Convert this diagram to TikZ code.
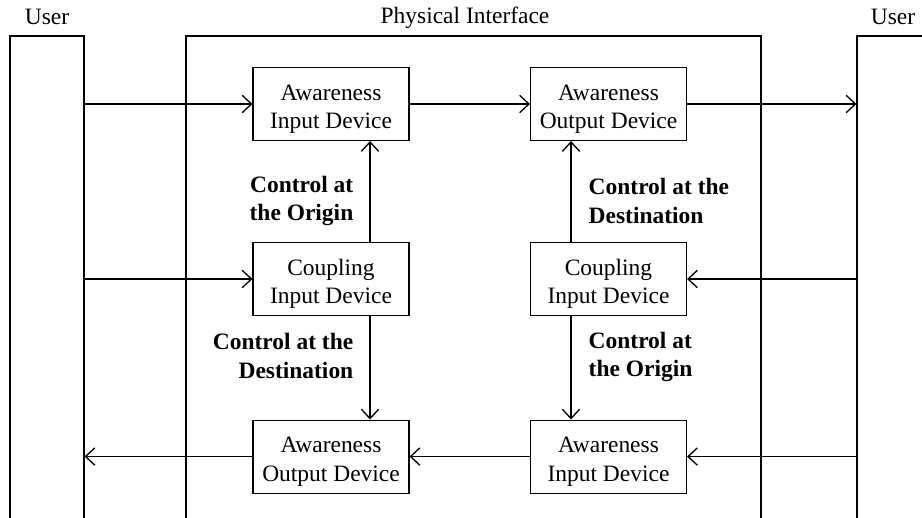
\documentclass[tikz,border=0pt]{standalone}
\usepackage{fontspec}
\setmainfont{Liberation Serif}
\usetikzlibrary{arrows.meta,positioning}

\begin{document}
\begin{tikzpicture}[
    x=0.75pt, y=-0.75pt,
    node distance=131.25pt,
    >={Straight Barb[length=7pt,width=13pt,line width=1pt]},
    font=\fontsize{17.6}{21.3}\selectfont,
    device/.style={
		rectangle,
		draw=black,
		line width=0.8pt,
		align=center,
		inner sep=0pt,
		text height=40.5pt,
		minimum width=117pt,
		minimum height=54.75pt
	},
	frame/.style={
		rectangle,
		draw=black,
		line width=0.8pt,
		inner sep=0pt,
		minimum height=370.5pt
	},
	ctrl/.style={
		font=\fontsize{17.6}{21.3}\selectfont\bfseries
	},
	flow/.style={
		->,
		line width=1pt
	}
  ]
  \useasboundingbox (0,0) rectangle (922,518);

  % We start by placing the frames
  \node [frame, minimum width=55.5pt] (userl) at (47,283) {};
  \node [frame, minimum width=431.25pt] (phys) at (473.5,283) {};
  \node [frame, minimum width=97.5pt] (userr) at (922,283) {};

  \node (userlt) at (47,17) {User};
  \node (physt) at (465,18) {Physical Interface};
  \node (userrt) at (893,17) {User};

  % then the devices
  \node [device] (ainl) at (331,104) {Awareness\\Input Device};
  \node [device] (aoutr) at (608.5,104) {Awareness\\Output Device};
  \node [device, below of=ainl] (cinl) {Coupling\\Input Device};
  \node [device, below of=aoutr] (cinr) {Coupling\\Input Device};
  \node [device, below of=cinl, yshift=-1.9pt] (aoutl) {Awareness\\Output Device};
  \node [device, below of=cinr, yshift=-1.9pt] (ainr) {Awareness\\Input Device};

  \coordinate (vl) at (370,0);
  \coordinate (vr) at (571,0);

  \node [ctrl, align=right, anchor=east] (ctrlol) at (358,201) {Control at\\the Origin};
  \node [ctrl, align=right, anchor=east] (ctrldl) at (358,356) {Control at the\\Destination};
  \node [ctrl, align=left, anchor=west] (ctrldr) at (584,201) {Control at the\\Destination};
  \node [ctrl, align=left, anchor=west] (ctrlor) at (584,357) {Control at\\the Origin};

  % horizontal flows
  \draw [flow] (userl.east |- ainl.west) -- (ainl.west);
  \draw [flow] (ainl.east) -- (aoutr.west);
  \draw [flow] (aoutr.east) -- (userr.west |- aoutr.east);
  \draw [flow] (userl.east |- cinl.west) -- (cinl.west);
  \draw [flow] (userr.west |- cinr.east) -- (cinr.east);
  \draw [flow] (aoutl.west) -- (userl.east |- aoutl.west);
  \draw [flow] (userr.west |- ainr.east) -- (ainr.east);
  \draw [flow] (ainr.west) -- (aoutl.east);

  % vertical flows
  \draw [flow] (cinl.north -| vl) -- (ainl.south -| vl);
  \draw [flow] (cinl.south -| vl) -- (aoutl.north -| vl);
  \draw [flow] (cinr.north -| vr) -- (aoutr.south -| vr);
  \draw [flow] (cinr.south -| vr) -- (ainr.north -| vr);

\end{tikzpicture}
\end{document}
